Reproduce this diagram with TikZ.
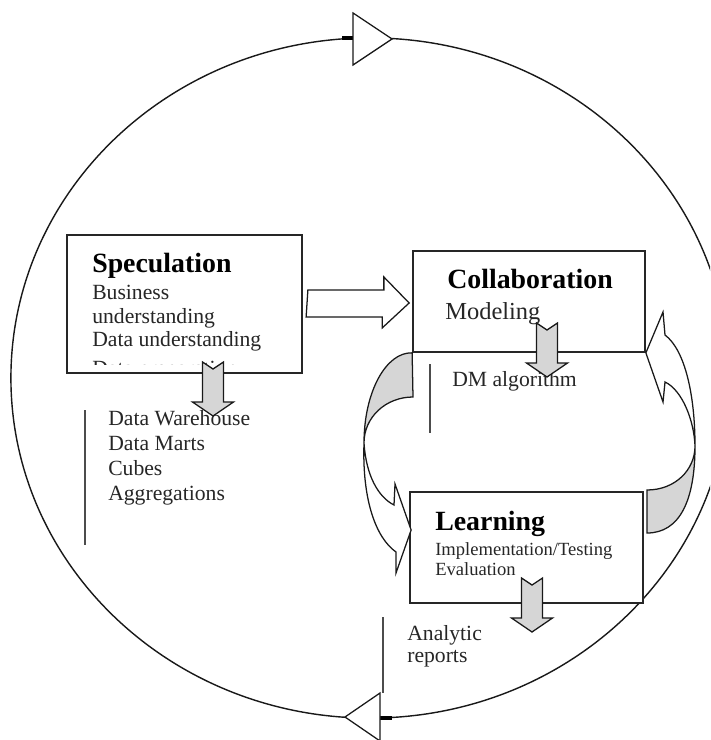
\documentclass[tikz,border=0pt]{standalone}
\usepackage{fontspec}
\setmainfont{Liberation Serif}
\usetikzlibrary{calc}
\definecolor{arrowgray}{HTML}{D6D6D6}
\definecolor{inktext}{HTML}{262626}
\begin{document}
\begin{tikzpicture}[x=0.025cm,y=-0.025cm,
  box/.style={draw=black!85,line width=1.2pt,fill=white,inner sep=0pt},
  heading/.style={anchor=base west,inner sep=0pt,font=\fontsize{19.8pt}{24pt}\selectfont\bfseries},
  body/.style={anchor=base west,inner sep=0pt,text=inktext,font=\fontsize{15.4pt}{18pt}\selectfont},
  bracket/.style={draw=black!70,line width=1.3pt},
  cycleline/.style={draw=black!90,line width=1pt},
  blockarrow/.style={draw=black!90,line width=0.9pt,fill=white,line join=miter},
  backpart/.style={draw=black!90,line width=0.9pt,fill=arrowgray},
  frontpart/.style={draw=black!90,line width=0.9pt,fill=white,line join=miter},
  downarrow/.pic={\draw[draw=black!90,line width=0.9pt,fill=arrowgray,line join=miter]
      (-10.5,0) -- (0,7) -- (10.5,0) -- (10.5,40) -- (20.5,40) -- (0,54)
      -- (-20.5,40) -- (-10.5,40) -- cycle;}]
\useasboundingbox (0,0) rectangle (710,740);
\clip (0,0) rectangle (710,740);

% the outer cycle
\draw[cycleline] (370,378) ellipse [x radius=8.975cm, y radius=8.5cm];
\coordinate (topmark) at (353,39);
\coordinate (botmark) at (380,717);
\draw[line width=2.2pt] ($(topmark)+(-11,-1)$) -- ($(topmark)+(0,-1)$);
\draw[blockarrow] (topmark) ++(0,-26) -- ++(39,26) -- ++(-39,26) -- cycle;
\draw[line width=2.2pt] ($(botmark)+(0,1)$) -- ($(botmark)+(12,1)$);
\draw[blockarrow] (botmark) ++(0,-24) -- ++(-35,24) -- ++(35,24) -- cycle;

% phase boxes
\node[box,minimum width=5.875cm,minimum height=3.45cm] (spec) at (184.5,304) {};
\node[box,minimum width=5.8cm,minimum height=2.525cm] (collab) at (529,301.5) {};
\node[box,minimum width=5.825cm,minimum height=2.775cm] (learn) at (526.5,547.5) {};

% Speculation
\node[heading] (specT) at (92,273) {Speculation};
\node[body] (specA) at (92,300) {Business};
\node[body] (specB) at (92,323) {understanding};
\node[body] (specC) at (92,347) {Data understanding};
\begin{scope}
  \clip (70,350) rectangle (300,364);
  \node[body] (specD) at (92,375) {Data preparation};
\end{scope}

% Collaboration
\node[heading] (collabT) at (447,289) {Collaboration};
\node[body,font=\fontsize{17.4pt}{20pt}\selectfont] (collabA) at (445,319) {Modeling};

% Learning
\node[heading] (learnT) at (435,530) {Learning};
\node[body,font=\fontsize{13.2pt}{16pt}\selectfont] (learnA) at (435,555) {Implementation/Testing};
\node[body,font=\fontsize{13.2pt}{16pt}\selectfont] (learnB) at (435,575) {Evaluation};

% outputs of each phase
\node[body] (dw1) at (108,425) {Data Warehouse};
\node[body] (dw2) at (108,450) {Data Marts};
\node[body] (dw3) at (108,475) {Cubes};
\node[body] (dw4) at (108,500) {Aggregations};
\node[body] (dm) at (452,386) {DM algorithm};
\node[body] (ar1) at (407,640) {Analytic};
\node[body] (ar2) at (407,662) {reports};

\draw[bracket] (85,410) coordinate (dwtop) -- (85,545) coordinate (dwbot);
\draw[bracket] (430,364) coordinate (dmtop) -- (430,433) coordinate (dmbot);
\draw[bracket] (383,617) coordinate (artop) -- (383,693) coordinate (arbot);

% Speculation -> Collaboration
\coordinate (h0) at ($(spec.east)+(5,0)$);
\coordinate (h1) at ($(collab.west)+(-3,1.5)$);
\draw[blockarrow] (h0) ++(0,-14) -- ++(76,0) -- ++(0,-13) -- (h1)
  -- ++(-27,25) -- ++(0,-11) -- ++(-76,0) -- cycle;

% Collaboration -> Learning (left loop)
\draw[backpart] (collab.south west) .. controls (386,352) and (364,392) .. (364,443)
  coordinate (lmeet) .. controls (364,417) and (386,397) .. (413,397) -- cycle;
\draw[frontpart] (lmeet) .. controls (366,475) and (378,497) .. (394,505)
  -- (395,484) -- ($(learn.west)+(2,-17.5)$) -- (396,573) -- (396,552)
  .. controls (376,538) and (362,500) .. (lmeet) -- cycle;

% Learning -> Collaboration (right loop)
\draw[backpart] (647,490) .. controls (675,490) and (695,470) .. (695,446)
  coordinate (rmeet) .. controls (695,500) and (680,533) .. (647,533) -- cycle;
\draw[frontpart] (rmeet) .. controls (695,395) and (685,350) .. (665,335)
  -- (663,312) -- (collab.south east) -- (663,402) -- (665,382)
  .. controls (682,390) and (694,420) .. (rmeet) -- cycle;

% downward flows out of each phase
\pic at (213,362) {downarrow};
\pic at (547,323) {downarrow};
\pic at (532,578) {downarrow};
\end{tikzpicture}
\end{document}
